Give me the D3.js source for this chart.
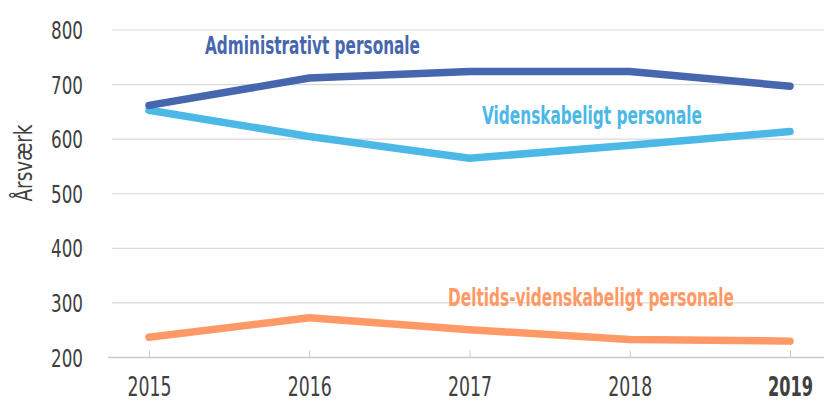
<!DOCTYPE html>
<html>
<head>
<meta charset="utf-8">
<script src="https://cdnjs.cloudflare.com/ajax/libs/d3/7.8.5/d3.min.js"></script>
<style>
body { margin: 0; background: #fff; }
text { font-family: "DejaVu Sans", sans-serif; font-stretch: condensed; }
</style>
</head>
<body>
<svg width="824" height="403"></svg>
<script>
var years = ["2015", "2016", "2017", "2018", "2019"];
var administrativt = [662, 712, 724, 724, 697];
var videnskabeligt = [653, 605, 565, 589, 614];
var deltids = [237, 273, 251, 233, 230];
var yTicks = [200, 300, 400, 500, 600, 700, 800];
var seriesNames = ["Administrativt personale", "Videnskabeligt personale", "Deltids-videnskabeligt personale"];

var svg = d3.select("svg"),
    gridLeft = 112,
    gridRight = 824;

var x = d3.scalePoint()
    .domain(years)
    .range([149, 790]);
var y = d3.scaleLinear()
    .domain([200, 800])
    .range([357.5, 30]);

// horizontal grid
svg.append("g").selectAll("line")
    .data(yTicks.slice(1))
    .enter()
    .append("line")
    .attr("x1", gridLeft)
    .attr("x2", gridRight)
    .attr("y1", function(d) { return y(d); })
    .attr("y2", function(d) { return y(d); })
    .attr("stroke", "#d9d9d9")
    .attr("stroke-width", 1.2);

// y tick labels
svg.append("g").selectAll("text")
    .data(yTicks)
    .enter()
    .append("text")
    .attr("x", 83)
    .attr("y", function(d) { return y(d) + 9; })
    .attr("text-anchor", "end")
    .attr("fill", "#404040")
    .attr("textLength", 32)
    .attr("lengthAdjust", "spacingAndGlyphs")
    .style("font-size", "25px")
    .text(function(d) { return d; });

svg.append("text")
    .attr("transform", "translate(32,163) rotate(-90)")
    .attr("text-anchor", "middle")
    .attr("fill", "#404040")
    .attr("textLength", 77)
    .attr("lengthAdjust", "spacingAndGlyphs")
    .style("font-size", "25px")
    .text("Årsværk");

// x axis
var xAxis = d3.axisBottom(x).tickSize(0).tickPadding(0);
var gx = svg.append("g")
    .attr("transform", "translate(0," + y(200) + ")")
    .call(xAxis);
gx.select(".domain").remove();
gx.append("line")
    .attr("x1", 108)
    .attr("x2", gridRight)
    .attr("stroke", "#c8c8c8")
    .attr("stroke-width", 1.5);
gx.selectAll(".tick").append("line")
    .attr("y1", -7)
    .attr("y2", 0)
    .attr("stroke", "#c8c8c8");
gx.selectAll(".tick text")
    .attr("y", 38.5)
    .attr("dy", 0)
    .attr("fill", "#404040")
    .attr("textLength", function(d) { return d === "2019" ? 45 : 44; })
    .attr("lengthAdjust", "spacingAndGlyphs")
    .style("font-size", "26px")
    .style("font-family", "'DejaVu Sans', sans-serif")
    .style("font-weight", function(d) { return d === "2019" ? "bold" : "normal"; });

// lines
var line = d3.line()
    .x(function(d, i) { return x(years[i]); })
    .y(function(d) { return y(d); });

var series = [
    {values: deltids, color: "#ff9966"},
    {values: videnskabeligt, color: "#4bb8e6"},
    {values: administrativt, color: "#4666ad"}
];
series.forEach(function(s) {
    svg.append("path")
        .datum(s.values)
        .attr("fill", "none")
        .attr("stroke", s.color)
        .attr("stroke-width", 7.5)
        .attr("stroke-linejoin", "round")
        .attr("stroke-linecap", "round")
        .attr("d", line);
});

// series labels
var labels = [
    {text: seriesNames[0], x: 312.5, y: 54, len: 215, color: "#4666ad"},
    {text: seriesNames[1], x: 592, y: 124, len: 220, color: "#4bb8e6"},
    {text: seriesNames[2], x: 591, y: 306, len: 286, color: "#ff9966"}
];
svg.append("g").selectAll("text")
    .data(labels)
    .enter()
    .append("text")
    .attr("x", function(d) { return d.x; })
    .attr("y", function(d) { return d.y; })
    .attr("text-anchor", "middle")
    .attr("fill", function(d) { return d.color; })
    .attr("textLength", function(d) { return d.len; })
    .attr("lengthAdjust", "spacingAndGlyphs")
    .style("font-size", "24px")
    .style("font-weight", "bold")
    .text(function(d) { return d.text; });
</script>
</body>
</html>
